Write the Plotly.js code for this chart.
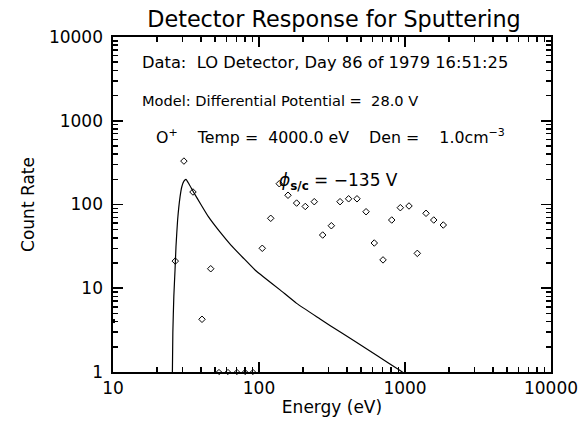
<!DOCTYPE html>
<html>
<head>
<meta charset="utf-8">
<script src="https://cdn.plot.ly/plotly-3.0.1.min.js"></script>
<style>html,body{margin:0;padding:0;background:#fff;}#chart{width:587px;height:427px;}</style>
</head>
<body>
<div id="chart"></div>
<script>
// Measured data (open diamonds)
const dataEnergy = [26.7, 30.6, 35.3, 40.7, 46.7, 105.3, 120.3, 137.7, 158, 181, 207.5, 239, 273, 313, 359, 411, 469, 541, 616, 707, 811, 929, 1065, 1214, 1393, 1573, 1829];
const dataCount  = [21.1, 330, 141, 4.26, 17.1, 30.0, 68.4, 177, 129, 104, 94.7, 108, 43.2, 55.8, 108, 117, 117, 82, 34.7, 21.8, 65.3, 91.6, 96, 26.1, 78.5, 65.3, 56.9];
// Zero-count channels drawn on the bottom axis
const zeroEnergy = [53.2, 61.3, 70.7, 80.2, 91.0];
const zeroCount  = [1, 1, 1, 1, 1];
// Point pinned at left axis
const edgeEnergy = [10];
const edgeCount  = [4.06];
// Model curve
const modelEnergy = [25.4, 25.7, 26.1, 26.6, 27.0, 27.7, 28.8, 29.6, 30.6, 31.6, 33, 35.5, 40, 45, 54, 64, 78, 94, 107, 140, 181, 262, 306, 445, 650, 926, 1000];
const modelCount  = [0.5, 3, 8, 16.5, 31.3, 65, 124, 163, 190, 200, 178, 142, 100, 71.5, 47, 33, 23, 16.5, 13.7, 9.5, 6.6, 4.3, 3.6, 2.38, 1.55, 1.04, 0.95];
// Tick labels
const xTickVals = [10, 100, 1000, 10000];
const xTickText = ['10', '100', '1000', '10000'];
const yTickVals = [1, 10, 100, 1000, 10000];
const yTickText = ['1', '10', '100', '1000', '10000'];
// Minor tick positions
const xMinorVals = [20, 30, 40, 50, 60, 70, 80, 90, 200, 300, 400, 500, 600, 700, 800, 900, 2000, 3000, 4000, 5000, 6000, 7000, 8000, 9000];
const yMinorVals = [2, 3, 4, 5, 6, 7, 8, 9, 20, 30, 40, 50, 60, 70, 80, 90, 200, 300, 400, 500, 600, 700, 800, 900, 2000, 3000, 4000, 5000, 6000, 7000, 8000, 9000];

const FONT = 'DejaVu Sans, Verdana, sans-serif';

const traces = [
  {x: modelEnergy, y: modelCount, mode: 'lines', type: 'scatter',
   line: {color: '#000', width: 1.2, shape: 'spline', smoothing: 0.4}, hoverinfo: 'skip'},
  {x: dataEnergy, y: dataCount, mode: 'markers', type: 'scatter',
   marker: {symbol: 'diamond-open', size: 5, color: '#000', line: {width: 1, color: '#000'}}},
  {x: zeroEnergy, y: zeroCount, mode: 'markers', type: 'scatter', cliponaxis: false,
   marker: {symbol: 'diamond-open', size: 4, color: '#000', line: {width: 1, color: '#000'}}},
  {x: edgeEnergy, y: edgeCount, mode: 'markers', type: 'scatter', cliponaxis: false,
   marker: {symbol: 'square', size: 4, color: '#000'}},
  // invisible trace to host the minor-tick axes
  {x: [10], y: [1], xaxis: 'x2', yaxis: 'y2', mode: 'markers', type: 'scatter',
   marker: {opacity: 0}, hoverinfo: 'skip'}
];

const axisCommon = {
  type: 'log', showgrid: false, zeroline: false, showline: true, linecolor: 'black', linewidth: 1.6,
  mirror: 'ticks', ticks: 'inside', ticklen: 10, tickwidth: 1.8, tickcolor: 'black',
  tickfont: {family: FONT, size: 17, color: '#000'}
};
const minorCommon = {
  type: 'log', showgrid: false, zeroline: false, showline: true, linecolor: 'black', linewidth: 1.6,
  mirror: 'ticks', ticks: 'inside', ticklen: 5, tickwidth: 1.5, tickcolor: 'black',
  showticklabels: false
};

const layout = {
  width: 587, height: 427,
  margin: {l: 113, r: 36, t: 37, b: 55},
  showlegend: false,
  font: {family: FONT, color: '#000'},
  title: {text: 'Detector Response for Sputtering', font: {family: FONT, size: 22.3, color: '#000'},
          x: 0.569, xanchor: 'center', y: 0.955, yanchor: 'middle'},
  xaxis: Object.assign({}, axisCommon, {
    range: [1, 4], tickvals: xTickVals, ticktext: xTickText,
    title: {text: 'Energy (eV)', font: {family: FONT, size: 17, color: '#000'}, standoff: 4}
  }),
  yaxis: Object.assign({}, axisCommon, {
    range: [0, 4], tickvals: yTickVals, ticktext: yTickText, ticklabelstandoff: 5,
    title: {text: 'Count Rate', font: {family: FONT, size: 17, color: '#000'}, standoff: 10}
  }),
  xaxis2: Object.assign({}, minorCommon, {range: [1, 4], tickvals: xMinorVals, overlaying: 'x', anchor: 'y2', side: 'bottom'}),
  yaxis2: Object.assign({}, minorCommon, {range: [0, 4], tickvals: yMinorVals, overlaying: 'y', anchor: 'x2', side: 'left'}),
  annotations: [
    {xref: 'paper', yref: 'paper', x: 0.0616, y: 0.925, xanchor: 'left', yanchor: 'middle', showarrow: false,
     text: 'Data:  LO Detector, Day 86 of 1979 16:51:25', font: {family: FONT, size: 16.3, color: '#000'}},
    {xref: 'paper', yref: 'paper', x: 0.0616, y: 0.809, xanchor: 'left', yanchor: 'middle', showarrow: false,
     text: 'Model: Differential Potential =  28.0 V', font: {family: FONT, size: 14.6, color: '#000'}},
    {xref: 'paper', yref: 'paper', x: 0.0936, y: 0.704, xanchor: 'left', yanchor: 'middle', showarrow: false,
     text: 'O<sup>+</sup>    Temp =  4000.0 eV    Den =    1.0cm<sup>−3</sup>', font: {family: FONT, size: 15.8, color: '#000'}},
    {xref: 'paper', yref: 'paper', x: 0.374, y: 0.570, xanchor: 'left', yanchor: 'middle', showarrow: false,
     text: '<i>ϕ</i><sub><b>s/c</b></sub> = −135 V', font: {family: FONT, size: 17, color: '#000'}}
  ]
};

Plotly.newPlot('chart', traces, layout, {staticPlot: true, displayModeBar: false});
</script>
</body>
</html>
